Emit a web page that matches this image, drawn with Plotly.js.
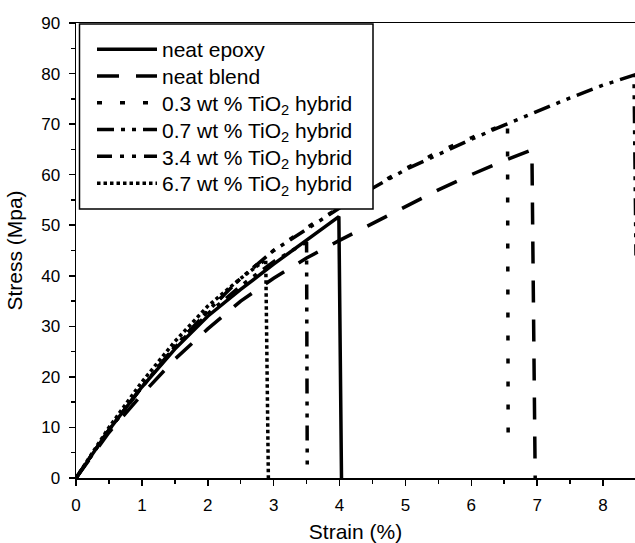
<!DOCTYPE html>
<html>
<head>
<meta charset="utf-8">
<script src="https://cdn.plot.ly/plotly-3.0.1.min.js"></script>
<style>html,body{margin:0;padding:0;background:#fff;}#chart{width:635px;height:543px;}</style>
</head>
<body>
<div id="chart"></div>
<script>
// Series names
const seriesNames = [
  "neat epoxy",
  "neat blend",
  "0.3 wt % TiO<sub>2</sub> hybrid",
  "0.7 wt % TiO<sub>2</sub> hybrid",
  "3.4 wt % TiO<sub>2</sub> hybrid",
  "6.7 wt % TiO<sub>2</sub> hybrid"
];

// Strain (%) values and Stress (MPa) values, ending with the fracture drop
const epoxyStrain = [0, 0.5, 1, 1.5, 2, 2.5, 3, 3.5, 3.99, 4.03];
const epoxyStress = [0, 9.5, 18, 25.5, 32, 37.3, 42.3, 47, 51.7, 0];

const blendStrain = [0, 0.5, 1, 1.5, 2, 2.5, 3, 3.5, 4, 4.5, 5, 5.5, 6, 6.5, 6.92, 6.97];
const blendStress = [0, 9, 16.5, 23.5, 29.5, 35, 39.5, 43.5, 47, 50.3, 53.7, 57, 60, 62.8, 64.9, 0];

const t03Strain = [0, 0.5, 1, 1.5, 2, 2.5, 3, 3.5, 4, 4.5, 5, 5.5, 6, 6.55, 6.56];
const t03Stress = [0, 9.5, 18, 26, 33, 39.5, 45, 49.5, 53.5, 57.5, 61.2, 64.5, 67.3, 70.2, 6.5];

const t07Strain = [0, 0.5, 1, 1.5, 2, 2.5, 3, 3.5, 4, 4.5, 5, 5.5, 6, 6.5, 7, 7.5, 8, 8.47, 8.5];
const t07Stress = [0, 9.5, 18, 26, 33, 39.5, 45, 49.3, 53.4, 57.3, 61, 64, 67, 69.8, 72.5, 75.2, 77.7, 79.7, 44];

const t34Strain = [0, 0.5, 1, 1.5, 2, 2.5, 3, 3.5, 3.51];
const t34Stress = [0, 9.5, 18, 25.8, 32.5, 38, 42.8, 46.7, 2.6];

const t67Strain = [0, 0.5, 1, 1.5, 2, 2.5, 2.88, 2.92];
const t67Stress = [0, 10, 19, 27, 34, 39.5, 43.2, 0];

const xTickVals = [0, 1, 2, 3, 4, 5, 6, 7, 8];
const yTickVals = [0, 10, 20, 30, 40, 50, 60, 70, 80, 90];

const dashes = ["solid", "22px,17px", "5px,18px", "17px,7px,4px,7px,4px,7px", "15px,8px,4px,8px,4px,8px", "3.5px,3px"];
const W = 3.5;

const xs = [epoxyStrain, blendStrain, t03Strain, t07Strain, t34Strain, t67Strain];
const ys = [epoxyStress, blendStress, t03Stress, t07Stress, t34Stress, t67Stress];

const traces = xs.map((x, i) => ({
  x: x, y: ys[i], name: seriesNames[i], type: "scatter", mode: "lines",
  line: {color: "#000", width: W, dash: dashes[i]}
}));

// plot area in px: left 76, right 635, top 23, bottom 478
const PL = 76, PW = 559, PT = 23, PH = 455;
const px2x = p => (p - PL) / PW;
const px2y = p => (PT + PH - p) / PH;

const layout = {
  width: 635, height: 543,
  margin: {l: 76, r: 0, t: 23, b: 65, pad: 0},
  paper_bgcolor: "#fff", plot_bgcolor: "#fff",
  font: {family: "Liberation Sans, Arial, sans-serif", color: "#000", size: 17},
  showlegend: true,
  legend: {
    x: px2x(92), y: px2y(29), xanchor: "left", yanchor: "top",
    borderwidth: 0, bgcolor: "rgba(0,0,0,0)",
    font: {size: 21, color: "#000"}, itemwidth: 60, tracegroupgap: 0
  },
  shapes: [{
    type: "rect", xref: "paper", yref: "paper", layer: "above",
    x0: px2x(79.5), x1: px2x(373), y0: px2y(209), y1: px2y(24),
    line: {color: "#000", width: 1.5}, fillcolor: "#fff"
  }],
  xaxis: {
    range: [0, 8.485], tickvals: xTickVals, ticktext: xTickVals.map(String),
    showgrid: false, zeroline: false, showline: true, linecolor: "#000", linewidth: 1.5,
    mirror: true, ticks: "outside", ticklen: 6, tickwidth: 1.5, tickcolor: "#000",
    ticklabelstandoff: 5,
    minor: {dtick: 0.5, tick0: 0, ticks: "outside", ticklen: 4, tickwidth: 1.5, tickcolor: "#000", showgrid: false},
    tickfont: {size: 17},
    title: {text: "Strain (%)", font: {size: 21}, standoff: 10}
  },
  yaxis: {
    range: [0, 90], tickvals: yTickVals, ticktext: yTickVals.map(String),
    showgrid: false, zeroline: false, showline: true, linecolor: "#000", linewidth: 1.5,
    mirror: false, ticks: "outside", ticklen: 6, tickwidth: 1.5, tickcolor: "#000",
    ticklabelstandoff: 5,
    minor: {dtick: 5, tick0: 0, ticks: "outside", ticklen: 4, tickwidth: 1.5, tickcolor: "#000", showgrid: false},
    tickfont: {size: 17},
    title: {text: "Stress (Mpa)", font: {size: 21}, standoff: 13}
  }
};

Plotly.newPlot("chart", traces, layout, {displayModeBar: false, staticPlot: true}).then(() => {
  // tighten legend row spacing to match the reference (~27px per row)
  try {
    const items = document.querySelectorAll("#chart .legend .traces");
    const re = /translate\(\s*([-\d.]+)[ ,]+([-\d.]+)\s*\)/;
    let y0 = null;
    items.forEach((el, i) => {
      const m = (el.getAttribute("transform") || "").match(re);
      if (!m) return;
      if (y0 === null) y0 = parseFloat(m[2]);
      el.setAttribute("transform", "translate(" + m[1] + "," + (y0 + i * 26.8) + ")");
    });
  } catch (e) {}
});
</script>
</body>
</html>
